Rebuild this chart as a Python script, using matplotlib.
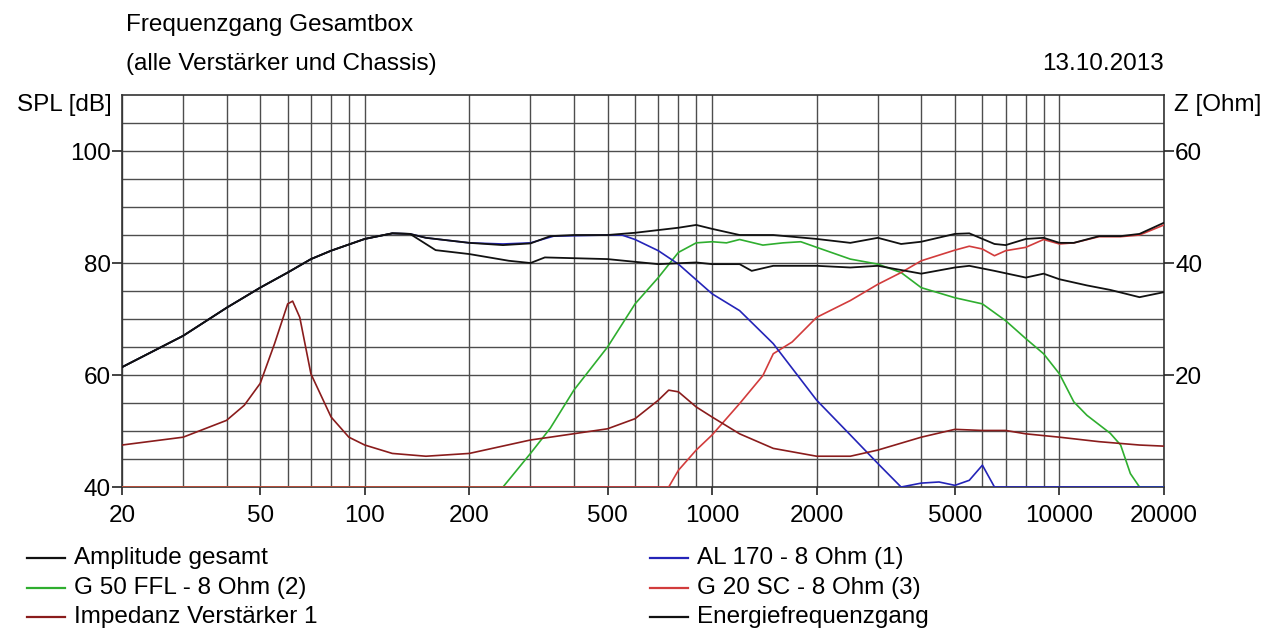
import numpy as np
import matplotlib
matplotlib.use('Agg')
import matplotlib.pyplot as plt
from matplotlib.lines import Line2D
from matplotlib.ticker import FixedLocator, NullLocator

plt.rcParams['font.family'] = ['Liberation Sans', 'DejaVu Sans']

# Amplitude gesamt (upper black line)
amp_f = [20, 30, 40, 50, 60, 70, 80, 100, 120, 135, 150, 200, 250, 300, 342, 400, 500, 600,
         800, 900, 1000, 1200, 1500, 2000, 2500, 3000, 3500, 4000, 5000, 5500, 6500, 7000,
         8000, 9000, 10000, 11000, 13000, 15000, 17000, 20000]
amp = [61.4, 67.0, 72.0, 75.6, 78.3, 80.7, 82.2, 84.3, 85.3, 85.2, 84.5, 83.6, 83.2, 83.5, 84.8, 85.0,
       85.0, 85.4, 86.3, 86.8, 86.1, 85.0, 85.0, 84.3, 83.6, 84.5, 83.4, 83.8, 85.2, 85.3, 83.4,
       83.2, 84.3, 84.5, 83.6, 83.6, 84.8, 84.8, 85.2, 87.2]

# Energiefrequenzgang (lower black line)
en_f = [20, 30, 40, 50, 60, 70, 80, 100, 120, 135, 150, 160, 200, 260, 300, 330, 500, 700, 900,
        1000, 1200, 1300, 1500, 2000, 2500, 3000, 4000, 5000, 5500, 6500, 8000, 9000, 10000,
        12000, 14000, 17000, 20000]
en = [61.4, 67.0, 72.0, 75.6, 78.3, 80.7, 82.2, 84.3, 85.3, 85.2, 83.4, 82.3, 81.6, 80.4, 80.0, 81.0,
      80.7, 79.8, 80.1, 79.8, 79.8, 78.6, 79.5, 79.5, 79.2, 79.5, 78.1, 79.2, 79.5, 78.6, 77.4,
      78.1, 77.1, 76.0, 75.2, 73.9, 74.8]

# AL 170 - 8 Ohm (1)
al_f = [20, 30, 40, 50, 60, 70, 80, 100, 120, 135, 150, 200, 250, 300, 350, 500, 550, 600, 700,
        800, 1000, 1200, 1500, 2000, 2500, 3000, 3500, 4000, 4500, 5000, 5500, 6000, 6500, 20000]
al = [61.4, 67.0, 72.0, 75.6, 78.3, 80.7, 82.2, 84.3, 85.3, 85.2, 84.5, 83.6, 83.4, 83.6, 84.8, 85.0,
      85.0, 84.2, 82.2, 79.8, 74.5, 71.5, 65.6, 55.5, 49.3, 44.2, 40.0, 40.7, 40.9, 40.3, 41.2,
      43.9, 40.0, 40.0]

# G 50 FFL - 8 Ohm (2)
g50_f = [20, 250, 300, 342, 400, 500, 600, 700, 800, 900, 1000, 1100, 1200, 1400, 1600, 1800,
         2000, 2500, 3000, 3500, 4000, 5000, 6000, 7000, 8000, 9000, 10000, 11000, 12000, 14000,
         15000, 16000, 17000, 20000]
g50 = [40.0, 40.0, 46.0, 50.5, 57.3, 65.0, 72.7, 77.4, 81.9, 83.6, 83.8, 83.6, 84.2, 83.2, 83.6, 83.8,
       82.8, 80.7, 79.8, 78.3, 75.6, 73.8, 72.7, 69.7, 66.5, 63.8, 60.2, 55.2, 52.8, 49.6,
       47.5, 42.4, 40.0, 40.0]

# G 20 SC - 8 Ohm (3)
g20_f = [20, 750, 800, 900, 1000, 1200, 1400, 1500, 1700, 2000, 2500, 3000, 3500, 4000, 5000,
         5500, 6000, 6500, 7000, 8000, 9000, 10000, 11000, 13000, 15000, 17000, 20000]
g20 = [40.0, 40.0, 43.0, 46.6, 49.3, 54.9, 59.9, 63.8, 65.9, 70.3, 73.3, 76.2, 78.3, 80.4, 82.3,
       83.0, 82.5, 81.3, 82.2, 82.8, 84.2, 83.4, 83.6, 84.7, 84.7, 85.0, 86.8]

# Impedanz Verstärker 1 [Ohm]
imp_f = [20, 30, 40, 45, 50, 55, 60, 62, 65, 70, 80, 90, 100, 120, 150, 200, 300, 342, 500, 600,
         700, 750, 800, 900, 1000, 1200, 1500, 2000, 2500, 3000, 4000, 5000, 6000, 7000, 8000,
         10000, 13000, 17000, 20000]
imp = [7.5, 8.9, 11.9, 14.6, 18.5, 25.6, 32.7, 33.2, 30.3, 20.2, 12.5, 8.9, 7.5, 6.0, 5.5, 6.0, 8.4,
       8.9, 10.4, 12.2, 15.5, 17.3, 17.0, 14.3, 12.5, 9.5, 6.9, 5.5, 5.5, 6.6, 8.9, 10.3, 10.1,
       10.1, 9.5, 8.9, 8.1, 7.5, 7.3]

xticks = [20, 50, 100, 200, 500, 1000, 2000, 5000, 10000, 20000]
xgrid = [20, 30, 40, 50, 60, 70, 80, 90, 100, 200, 300, 400, 500, 600, 700, 800, 900, 1000,
         2000, 3000, 4000, 5000, 6000, 7000, 8000, 9000, 10000, 20000]

c_black = '#111111'
c_blue = '#2424b8'
c_green = '#2fae2f'
c_red = '#d23c3c'
c_imp = '#8a1c1c'
c_grid = '#4d4d4d'
fs = 17.5

fig = plt.figure(figsize=(12.73, 6.33), dpi=100)
ax = fig.add_axes([0.0958, 0.2306, 0.8186, 0.6193])
ax.set_xscale('log')
ax.set_xlim(20, 20000)
ax.set_ylim(40, 110)

# grid
for gx in xgrid:
    ax.axvline(gx, color=c_grid, lw=1.0, zorder=1)
for gy in range(45, 110, 5):
    ax.axhline(gy, color=c_grid, lw=1.0, zorder=1)

ax.plot(g50_f, g50, color=c_green, lw=1.2, zorder=3)
ax.plot(g20_f, g20, color=c_red, lw=1.2, zorder=3)
ax.plot(al_f, al, color=c_blue, lw=1.2, zorder=4)
ax.plot(en_f, en, color=c_black, lw=1.3, zorder=5)
ax.plot(amp_f, amp, color=c_black, lw=1.3, zorder=5)

ax.xaxis.set_major_locator(FixedLocator(xticks))
ax.xaxis.set_minor_locator(NullLocator())
ax.set_xticklabels([str(t) for t in xticks])
ax.set_yticks([40, 60, 80, 100])
ax.tick_params(axis='x', labelsize=fs, length=6, width=1.2, color='#222222', pad=7)
ax.tick_params(axis='y', labelsize=fs, length=7, width=1.2, color='#222222', pad=1)
for s in ax.spines.values():
    s.set_color('#333333')
    s.set_linewidth(1.2)

ax2 = ax.twinx()
ax2.set_ylim(0, 70)
ax2.set_yticks([20, 40, 60])
ax2.tick_params(axis='y', labelsize=fs, length=7, width=1.2, color='#222222', pad=1)
ax2.plot(imp_f, imp, color=c_imp, lw=1.2, zorder=3)
for s in ax2.spines.values():
    s.set_visible(False)

# texts
fig.text(0.099, 1 - 25 / 633, 'Frequenzgang Gesamtbox', fontsize=fs, va='center', ha='left')
fig.text(0.099, 1 - 64 / 633, '(alle Verstärker und Chassis)', fontsize=fs, va='center', ha='left')
fig.text(0.9144, 1 - 64 / 633, '13.10.2013', fontsize=fs, va='center', ha='right')
fig.text(0.088, 1 - 105 / 633, 'SPL [dB]', fontsize=fs, va='center', ha='right')
fig.text(0.922, 1 - 105 / 633, 'Z [Ohm]', fontsize=fs, va='center', ha='left')

# legend
legend_items = [
    (27, 558, c_black, 'Amplitude gesamt'),
    (27, 588, c_green, 'G 50 FFL - 8 Ohm (2)'),
    (27, 617, c_imp, 'Impedanz Verstärker 1'),
    (650, 558, c_blue, 'AL 170 - 8 Ohm (1)'),
    (650, 588, c_red, 'G 20 SC - 8 Ohm (3)'),
    (650, 617, c_black, 'Energiefrequenzgang'),
]
for lx, ly, col, lab in legend_items:
    x0 = lx / 1273
    y0 = 1 - ly / 633
    fig.add_artist(Line2D([x0, x0 + 38 / 1273], [y0, y0], color=col, lw=1.6,
                          transform=fig.transFigure))
    fig.text(x0 + 47 / 1273, y0, lab, fontsize=fs, va='center', ha='left')

fig.savefig('out.png', dpi=100)
